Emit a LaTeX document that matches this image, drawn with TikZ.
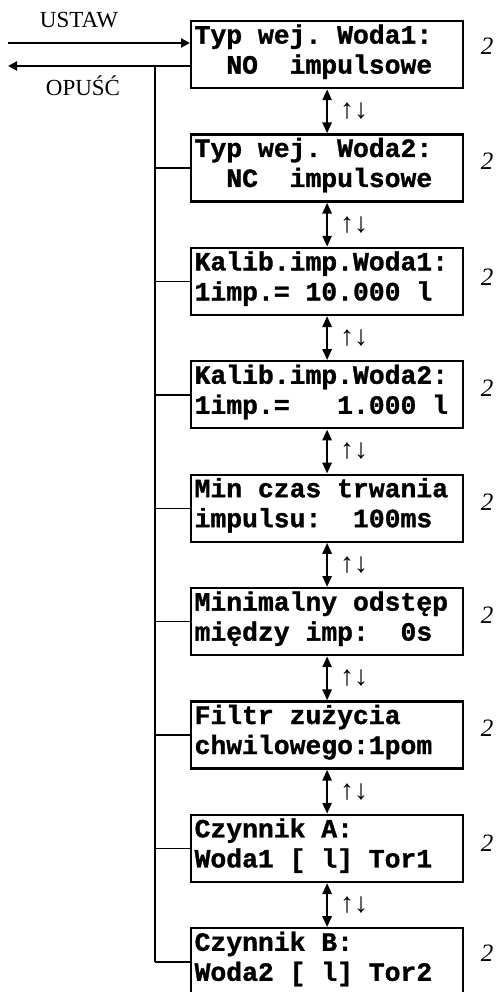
\documentclass[tikz,border=0pt]{standalone}
\usepackage{fontspec}
\setmainfont{Liberation Serif}
\newfontfamily\lcdfont[BoldFeatures={FakeBold=1.2}]{Liberation Mono}
\usetikzlibrary{arrows.meta}
\newcommand\lcdsetup{\lcdfont\bfseries\fontsize{26.4}{30}\selectfont\frenchspacing
  \fontdimen2\font=0.6em\fontdimen3\font=0pt\fontdimen4\font=0pt}
\begin{document}
\begin{tikzpicture}[x=1pt,y=-1pt,
  lcdbox/.style={draw, line width=2.2pt, anchor=north west, minimum width=272pt,
    minimum height=67pt, inner xsep=3.5pt, inner ysep=0pt,
    text width=265pt, text height=22.5pt, text depth=44.5pt,
    font=\lcdsetup,
    execute at begin node={\spaceskip=0.6em\relax\xspaceskip=0.6em\relax\noindent}},
  pagenum/.style={font=\itshape\fontsize{25}{25}\selectfont},
  updown/.style={font=\fontsize{28}{28}\selectfont},
  lbl/.style={font=\fontsize{23}{24}\selectfont},
  mainarr/.style={line width=2.2pt, -{Triangle[length=9pt,width=9pt]}},
  dblarr/.style={line width=2.6pt, {Triangle[length=11pt,width=9pt]}-{Triangle[length=11pt,width=9pt]}},
  busline/.style={line width=1.6pt},
  branch/.style={line width=1.4pt}]
\useasboundingbox (0,0) rectangle (496,992);

\node[lcdbox] (b1) at (190,20) {Typ wej. Woda1:\\~~NO~~impulsowe};
\node[lcdbox] (b2) at (190,133.4) {Typ wej. Woda2:\\~~NC~~impulsowe};
\node[lcdbox] (b3) at (190,246.8) {Kalib.imp.Woda1:\\1imp.=~10.000~l};
\node[lcdbox] (b4) at (190,360.2) {Kalib.imp.Woda2:\\1imp.=~~~1.000~l};
\node[lcdbox] (b5) at (190,473.6) {Min czas trwania\\impulsu:~~100ms};
\node[lcdbox] (b6) at (190,587) {Minimalny odstęp\\między imp:~~0s};
\node[lcdbox] (b7) at (190,700.4) {Filtr zużycia\\chwilowego:1pom};
\node[lcdbox] (b8) at (190,813.8) {Czynnik A:\\Woda1 [ l] Tor1};
\node[lcdbox] (b9) at (190,927.2) {Czynnik B:\\Woda2 [ l] Tor2};

\foreach \i/\y in {1/46,2/161,3/277,4/388,5/502,6/615,7/728,8/843,9/953}
  \node[pagenum] (p\i) at (487,\y) {2};

\foreach \a/\b in {1/2,2/3,3/4,4/5,5/6,6/7,7/8,8/9}{
  \draw[dblarr] (b\a.south) -- (b\b.north);
  \path (b\a.south) -- (b\b.north) node[midway, xshift=27pt, updown] (ud\a) {↑↓};
}

\coordinate (usIn) at (8,43);
\coordinate (opOut) at (8,66);
\coordinate (busTop) at (155,66);
\draw[mainarr] (usIn) -- (b1.west |- usIn);
\draw[mainarr] (b1.west |- opOut) -- (opOut);
\node[lbl] (ustaw) at (79,20) {USTAW};
\node[lbl] (opusc) at (83,86) {OPUŚĆ};

\draw[busline] (busTop) -- (busTop |- b9.west);
\foreach \i in {2,...,9}
  \draw[branch] (b\i.west) -- (b\i.west -| busTop);
\end{tikzpicture}
\end{document}
